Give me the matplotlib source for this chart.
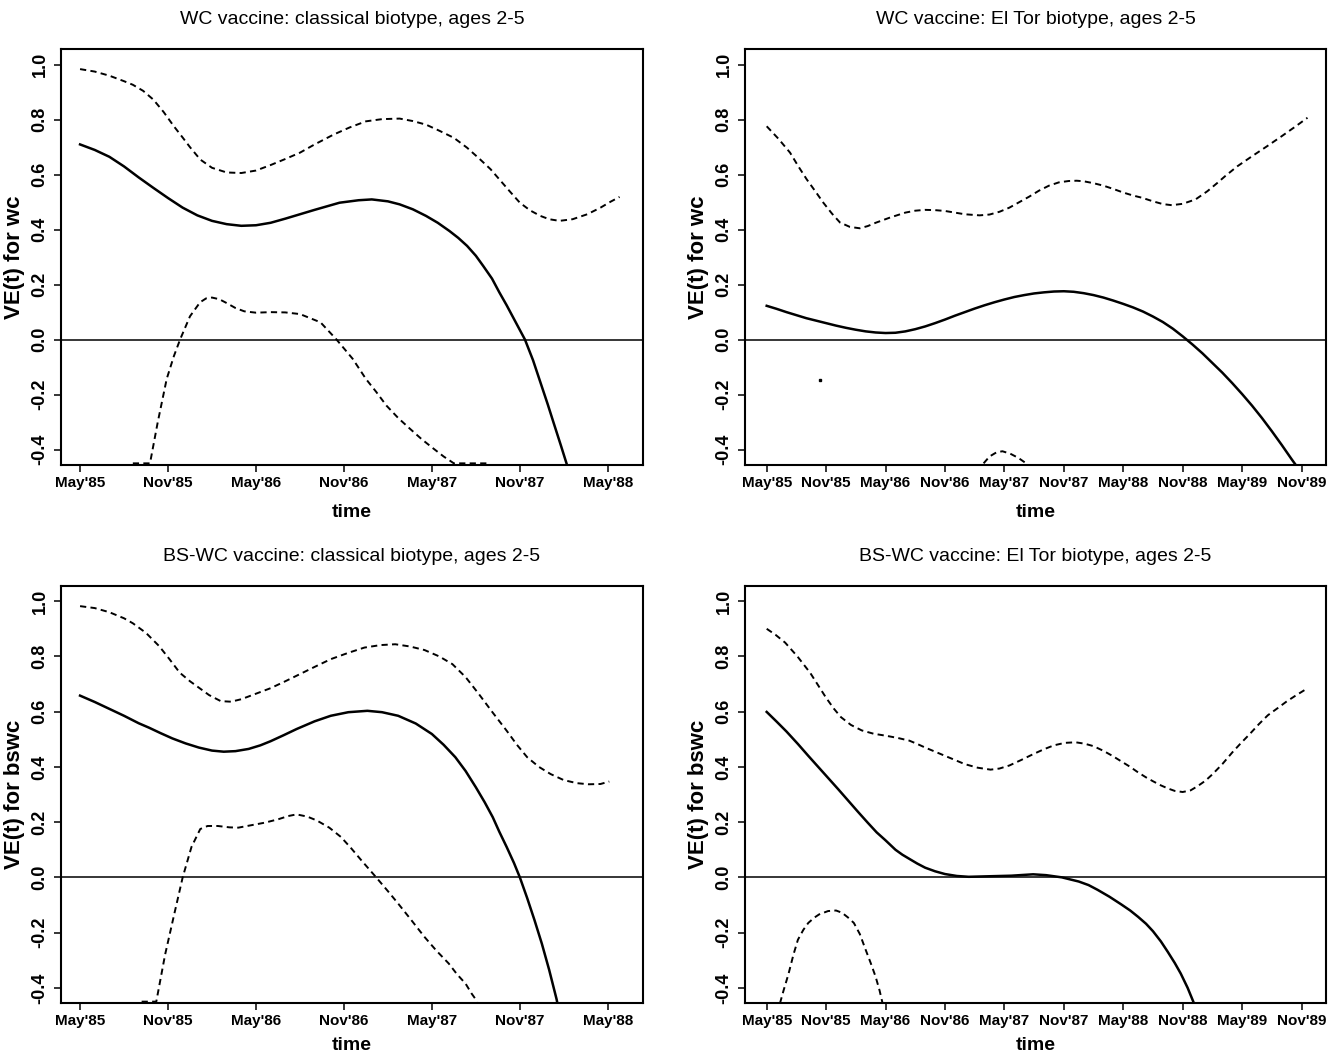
import matplotlib
matplotlib.use("Agg")
import matplotlib.pyplot as plt
from matplotlib import font_manager

# ---------------- data (months since May 1985) ----------------
titles = ["WC vaccine: classical biotype, ages 2-5",
          "WC vaccine: El Tor biotype, ages 2-5",
          "BS-WC vaccine: classical biotype, ages 2-5",
          "BS-WC vaccine: El Tor biotype, ages 2-5"]
ylabels = ["VE(t) for wc", "VE(t) for wc", "VE(t) for bswc", "VE(t) for bswc"]

ticks_short = [0, 6, 12, 18, 24, 30, 36]
labels_short = ["May'85", "Nov'85", "May'86", "Nov'86", "May'87", "Nov'87", "May'88"]
ticks_long = [0, 6, 12, 18, 24, 30, 36, 42, 48, 54]
labels_long = ["May'85", "Nov'85", "May'86", "Nov'86", "May'87", "Nov'87",
               "May'88", "Nov'88", "May'89", "Nov'89"]
yticks = [-0.4, -0.2, 0.0, 0.2, 0.4, 0.6, 0.8, 1.0]

# Panel 1: WC, classical
p1_est_t = [0, 1, 2, 3, 4, 5, 6, 7, 8, 9, 10, 11, 12, 13, 14, 15, 16, 17.7, 19, 19.9, 21, 21.8, 22.7,
            23.6, 24.4, 25.2, 25.8, 26.4, 27, 27.5, 28.1, 28.6, 29.1, 29.6, 30, 30.35, 30.9, 31.4, 31.9,
            32.3, 32.8, 33.3]
p1_est_v = [0.71, 0.69, 0.665, 0.63, 0.59, 0.552, 0.515, 0.48, 0.452, 0.432, 0.42, 0.414, 0.416, 0.425,
            0.44, 0.456, 0.472, 0.498, 0.507, 0.51, 0.503, 0.492, 0.474, 0.45, 0.425, 0.395, 0.37, 0.341,
            0.305, 0.268, 0.222, 0.172, 0.125, 0.075, 0.035, 0.0, -0.075, -0.155, -0.235, -0.302, -0.385,
            -0.47]
p1_hi_t = [0, 1, 2, 3, 3.6, 4.3, 5, 5.7, 6.4, 7, 7.5, 8.2, 9, 10, 11, 12, 13, 14, 15, 16, 17.3, 18.4,
           19.5, 20.6, 21.8, 22.7, 23.6, 24.5, 25.5, 26.4, 27.3, 28, 28.6, 29.3, 30, 30.7, 31.4, 32, 32.7,
           33.6, 34.6, 35.5, 36.2, 36.8]
p1_hi_v = [0.984, 0.975, 0.96, 0.94, 0.927, 0.905, 0.873, 0.828, 0.776, 0.735, 0.70, 0.655, 0.625, 0.608,
           0.606, 0.615, 0.635, 0.657, 0.68, 0.71, 0.746, 0.772, 0.794, 0.802, 0.804, 0.795, 0.782, 0.76,
           0.734, 0.698, 0.655, 0.62, 0.583, 0.54, 0.498, 0.47, 0.45, 0.438, 0.432, 0.438, 0.456, 0.48,
           0.502, 0.519]
p1_lo_t = [3.6, 4.77, 5.3, 5.91, 6.4, 6.82, 7.5, 8.19, 8.6, 9.0, 9.5, 10, 10.6, 11.2, 12, 13, 14, 15,
           16.4, 17.5, 18.6, 19.5, 20.2, 20.9, 21.7, 22.5, 23.3, 24.1, 24.8, 25.5, 27.8]
p1_lo_v = [-0.45, -0.45, -0.30, -0.143, -0.06, 0.0, 0.085, 0.136, 0.15, 0.153, 0.147, 0.133, 0.115,
           0.103, 0.098, 0.10, 0.099, 0.093, 0.063, 0.0, -0.07, -0.143, -0.19, -0.24, -0.285, -0.324,
           -0.362, -0.396, -0.425, -0.45, -0.45]

# Panel 2: WC, El Tor
p2_est_t = [0, 1, 2, 3, 4, 5, 6, 7, 8, 9, 10, 11, 12, 13, 14, 15, 16, 17, 18, 19, 20, 21, 22, 23, 24,
            25, 26, 27, 28, 29, 30, 31, 32, 33, 34, 35, 36, 37, 38, 39, 40, 41, 42, 43, 44, 45, 46, 47,
            48, 49, 50, 51, 52, 53, 53.7]
p2_est_v = [0.123, 0.112, 0.10, 0.089, 0.078, 0.069, 0.06, 0.051, 0.043, 0.036, 0.03, 0.026, 0.024,
            0.025, 0.03, 0.038, 0.048, 0.06, 0.073, 0.087, 0.10, 0.113, 0.125, 0.136, 0.146, 0.155,
            0.162, 0.168, 0.172, 0.175, 0.176, 0.174, 0.169, 0.162, 0.153, 0.142, 0.13, 0.117, 0.102,
            0.084, 0.064, 0.04, 0.012, -0.018, -0.05, -0.085, -0.12, -0.158, -0.198, -0.24, -0.285,
            -0.333, -0.383, -0.435, -0.47]
p2_hi_t = [0, 1.2, 2.36, 3.2, 4.04, 4.9, 5.72, 6.6, 7.4, 8.4, 9.4, 10.2, 11, 12.45, 14, 15, 16, 17, 18,
           19, 20, 21.5, 22.5, 23.5, 24.5, 25.5, 26.5, 27.5, 28.5, 29.5, 30.5, 31.3, 32, 33, 34, 35, 36,
           37, 37.9, 39, 40, 40.9, 42, 43.3, 44.5, 45.5, 46.3, 47.5, 49, 50.5, 52, 53.3, 54.6]
p2_hi_v = [0.776, 0.73, 0.68, 0.63, 0.583, 0.54, 0.498, 0.458, 0.426, 0.41, 0.405, 0.413, 0.425, 0.444,
           0.462, 0.469, 0.472, 0.471, 0.468, 0.462, 0.456, 0.452, 0.455, 0.465, 0.48, 0.50, 0.52, 0.542,
           0.56, 0.572, 0.577, 0.578, 0.576, 0.569, 0.56, 0.548, 0.535, 0.524, 0.516, 0.503, 0.493,
           0.489, 0.494, 0.51, 0.54, 0.57, 0.595, 0.63, 0.667, 0.703, 0.74, 0.773, 0.807]
p2_lo_t = [21.9, 22.5, 23.2, 23.8, 24.6, 25.4, 26.2]
p2_lo_v = [-0.45, -0.425, -0.41, -0.406, -0.415, -0.43, -0.45]
p2_speck_t = [5.4]
p2_speck_v = [-0.146]

# Panel 3: BS-WC, classical
p3_est_t = [0, 1, 2, 3, 4, 4.7, 5.5, 6.3, 7.2, 8.1, 9, 9.8, 10.6, 11.5, 12.3, 13, 13.9, 14.77, 16, 17.1,
            18.3, 19.6, 20.6, 21.7, 22.9, 24.0, 24.8, 25.6, 26.3, 27.0, 27.6, 28.15, 28.6, 29.1, 29.6,
            30.0, 30.5, 31.0, 31.5, 32.0, 32.5, 32.6]
p3_est_v = [0.658, 0.635, 0.61, 0.585, 0.558, 0.542, 0.522, 0.503, 0.485, 0.47, 0.459, 0.455, 0.457,
            0.465, 0.478, 0.493, 0.515, 0.537, 0.565, 0.585, 0.598, 0.603, 0.598, 0.585, 0.557, 0.519,
            0.48, 0.435, 0.385, 0.326, 0.272, 0.218, 0.165, 0.11, 0.052, 0.0, -0.075, -0.155, -0.24,
            -0.335, -0.44, -0.465]
p3_hi_t = [0, 1, 2, 3, 3.6, 4.5, 5.4, 6.1, 6.8, 7.5, 8.1, 8.8, 9.6, 10.3, 11, 12, 13, 14, 14.77, 16,
           17.1, 18.3, 19.4, 20.5, 21.5, 22.5, 23.5, 24.5, 25.4, 26.3, 27.2, 28.1, 29.1, 29.8, 30.5,
           31.3, 32.1, 33, 33.9, 34.7, 35.5, 36.1]
p3_hi_v = [0.982, 0.975, 0.96, 0.938, 0.92, 0.885, 0.837, 0.79, 0.741, 0.71, 0.687, 0.66, 0.638, 0.636,
           0.645, 0.665, 0.685, 0.71, 0.73, 0.762, 0.79, 0.813, 0.832, 0.841, 0.844, 0.836, 0.823, 0.80,
           0.772, 0.725, 0.664, 0.60, 0.531, 0.48, 0.435, 0.40, 0.374, 0.352, 0.341, 0.337, 0.338, 0.347]
p3_lo_t = [4.2, 5.2, 5.8, 6.4, 7.0, 7.6, 8.2, 8.7, 9.4, 10.2, 10.8, 11.6, 12.6, 13.5, 14.2, 14.77, 15.5,
           16.15, 17, 17.8, 18.5, 19.2, 20.2, 21, 21.7, 22.6, 23.5, 24.3, 25.15, 25.7, 26.3, 26.7, 27.1]
p3_lo_v = [-0.45, -0.45, -0.28, -0.139, 0.0, 0.11, 0.175, 0.186, 0.186, 0.181, 0.18, 0.188, 0.198, 0.21,
           0.222, 0.228, 0.22, 0.206, 0.18, 0.146, 0.105, 0.061, 0.0, -0.05, -0.095, -0.155, -0.216,
           -0.265, -0.312, -0.35, -0.385, -0.42, -0.45]

# Panel 4: BS-WC, El Tor
p4_est_t = [0, 1, 2, 3.15, 4.2, 5.2, 6.2, 7.2, 8.2, 9.2, 10.2, 11.1, 12, 13, 13.7, 14.4, 15.2, 16, 17,
            18, 19.2, 20.4, 22.5, 24.7, 26, 26.9, 28.2, 29.8, 30.7, 31.5, 32.5, 33.4, 34.6, 35.8, 36.7,
            37.5, 38.3, 39, 39.8, 40.5, 41.2, 41.8, 42.5, 43.3]
p4_est_v = [0.599, 0.564, 0.528, 0.483, 0.44, 0.40, 0.36, 0.32, 0.279, 0.238, 0.198, 0.163, 0.134, 0.10,
            0.082, 0.067, 0.05, 0.035, 0.022, 0.012, 0.005, 0.002, 0.004, 0.006, 0.009, 0.011, 0.008,
            0.0, -0.008, -0.015, -0.028, -0.045, -0.07, -0.098, -0.12, -0.143, -0.168, -0.195, -0.232,
            -0.27, -0.31, -0.348, -0.40, -0.47]
p4_hi_t = [0, 0.9, 1.86, 3.1, 4.4, 5.2, 6, 6.8, 7.5, 8.5, 9.6, 10.8, 12, 13.2, 14.4, 15.2, 16, 17, 18,
           19, 20, 21.3, 22.6, 23.5, 24.5, 25.7, 26.9, 28, 29, 30.1, 31.2, 32.1, 33, 34, 34.9, 35.8,
           36.7, 37.5, 38.3, 39, 39.8, 40.5, 41.2, 42, 42.8, 43.5, 44.3, 45, 46, 47, 47.8, 48.8, 49.7,
           50.6, 51.6, 52.5, 53.4, 54.3]
p4_hi_v = [0.90, 0.878, 0.85, 0.80, 0.74, 0.695, 0.65, 0.61, 0.58, 0.552, 0.532, 0.52, 0.513, 0.505,
           0.495, 0.483, 0.47, 0.455, 0.44, 0.425, 0.41, 0.397, 0.39, 0.394, 0.405, 0.425, 0.446, 0.464,
           0.478, 0.487, 0.489, 0.484, 0.475, 0.458, 0.44, 0.42, 0.40, 0.38, 0.362, 0.348, 0.333, 0.322,
           0.313, 0.309, 0.315, 0.33, 0.35, 0.373, 0.41, 0.452, 0.483, 0.52, 0.555, 0.587, 0.613, 0.637,
           0.658, 0.678]
p4_lo_t = [1.34, 1.7, 2.2, 2.7, 3.15, 3.7, 4.2, 4.8, 5.3, 6.2, 7.0, 7.6, 8.2, 8.8, 9.4, 10, 10.5, 11,
           11.4, 11.7]
p4_lo_v = [-0.456, -0.41, -0.35, -0.28, -0.226, -0.19, -0.165, -0.146, -0.134, -0.122, -0.12, -0.128,
           -0.145, -0.165, -0.205, -0.263, -0.31, -0.36, -0.41, -0.456]

# ---------------- style ----------------
avail = {f.name for f in font_manager.fontManager.ttflist}
narrow = "Liberation Sans Narrow" if "Liberation Sans Narrow" in avail else "Liberation Sans"
plt.rcParams['font.family'] = [narrow, 'DejaVu Sans']

fig = plt.figure(figsize=(13.42, 10.58), dpi=100)
W, H = 1342.0, 1058.0
boxes = [(61, 642.7, 49.3, 465.0), (745, 1326.3, 49.3, 465.0),
         (61, 642.7, 585.7, 1003.3), (745, 1326.3, 585.7, 1003.3)]

panels = [
    (p1_est_t, p1_est_v, p1_hi_t, p1_hi_v, p1_lo_t, p1_lo_v, ticks_short, labels_short, (-1.30, 38.38)),
    (p2_est_t, p2_est_v, p2_hi_t, p2_hi_v, p2_lo_t, p2_lo_v, ticks_long, labels_long, (-2.19, 56.5)),
    (p3_est_t, p3_est_v, p3_hi_t, p3_hi_v, p3_lo_t, p3_lo_v, ticks_short, labels_short, (-1.30, 38.38)),
    (p4_est_t, p4_est_v, p4_hi_t, p4_hi_v, p4_lo_t, p4_lo_v, ticks_long, labels_long, (-2.19, 56.5)),
]

for i, (box, pan) in enumerate(zip(boxes, panels)):
    l, r, t, b = box
    ax = fig.add_axes([l / W, 1 - b / H, (r - l) / W, (b - t) / H])
    et, ev, ht, hv, lt, lv, xt, xl, xlim = pan
    ax.axhline(0.0, color='black', lw=1.1, zorder=1)
    ax.plot(et, ev, color='black', lw=1.8, solid_joinstyle='round', zorder=3)
    ax.plot(ht, hv, color='black', lw=1.4, linestyle=(0, (3.2, 2.2)), zorder=3)
    ax.plot(lt, lv, color='black', lw=1.4, linestyle=(0, (3.2, 2.2)), zorder=3)
    if i == 1:
        ax.plot(p2_speck_t, p2_speck_v, 's', color='black', ms=1.5, zorder=3)
    ax.set_xlim(*xlim)
    ax.set_ylim(-0.456, 1.056)
    ax.set_xticks(xt)
    ax.set_xticklabels(xl, fontsize=11, fontweight='bold')
    ax.set_yticks(yticks)
    ax.set_yticklabels([f"{v:.1f}" for v in yticks], rotation=90, va='center',
                       fontsize=13, fontweight='bold')
    ax.tick_params(axis='both', direction='out', length=5, width=1.1, color='black')
    ax.tick_params(axis='x', pad=3)
    ax.tick_params(axis='y', pad=4)
    for s in ax.spines.values():
        s.set_linewidth(1.5)
    ax.set_xlabel("time", fontsize=14, fontweight='bold', labelpad=(10 if i < 2 else 6))
    ax.set_ylabel(ylabels[i], fontsize=16, fontweight='bold', labelpad=5)
    ax.set_title(titles[i], fontsize=14, pad=18)

fig.savefig("out.png", dpi=100, facecolor='white')
